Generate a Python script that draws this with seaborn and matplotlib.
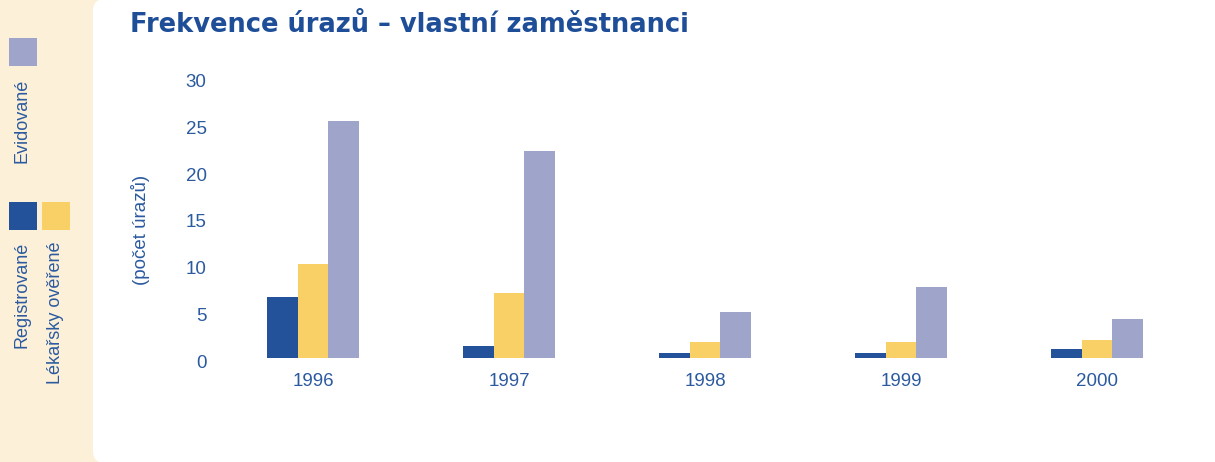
import numpy as np
import pandas as pd
import matplotlib
matplotlib.use("Agg")
import matplotlib.pyplot as plt
import matplotlib.transforms as mtransforms
from matplotlib.patches import FancyBboxPatch, Rectangle
import seaborn as sns

# ---- data ----
years = ["1996", "1997", "1998", "1999", "2000"]
series = ["Registrované", "Lékařsky ověřené", "Evidované"]
registrovane = [6.5, 1.25, 0.5, 0.5, 0.95]
lekarsky_overene = [10.0, 6.9, 1.7, 1.7, 1.9]
evidovane = [25.2, 22.0, 4.9, 7.5, 4.1]
y_ticks = [0, 5, 10, 15, 20, 25, 30]
title = "Frekvence úrazů – vlastní zaměstnanci"
ylabel = "(počet úrazů)"

colors = ["#23519a", "#f8d066", "#9fa4ca"]
text_color = "#2b5a9f"
title_color = "#1f4e98"
cream = "#fdf0d9"

W, H = 1215, 462

sns.set_theme(style="white")
plt.rcParams["font.family"] = ["Liberation Sans", "DejaVu Sans"]

df = pd.DataFrame({
    "year": years * 3,
    "series": np.repeat(series, len(years)),
    "value": registrovane + lekarsky_overene + evidovane,
})

fig = plt.figure(figsize=(W / 100, H / 100), dpi=100, facecolor=cream)

# white rounded panel
panel = FancyBboxPatch((93, -1), 1300, H + 2,
                       boxstyle="round,pad=0,rounding_size=12",
                       transform=None, facecolor="white", edgecolor="none",
                       zorder=-10)
fig.add_artist(panel)

y0_px, scale = 357.7, 9.38
ymax = 30.5
top_px = y0_px - ymax * scale
ax = fig.add_axes([215 / W, (H - y0_px) / H, 980 / W, (y0_px - top_px) / H])
ax.set_facecolor("none")

sns.barplot(data=df, x="year", y="value", hue="series", hue_order=series,
            palette=colors, width=0.47, saturation=1, legend=False,
            linewidth=0, ax=ax)

ax.set_xlim(-0.5, 4.5)
ax.set_ylim(0, ymax)
ax.set_yticks(y_ticks)
ax.set_yticklabels([str(t) for t in y_ticks])
for s in ax.spines.values():
    s.set_visible(False)
ax.tick_params(axis="both", length=0, labelsize=13.5, labelcolor=text_color)
ax.tick_params(axis="x", pad=11)
ax.tick_params(axis="y", pad=6)
ax.set_xlabel("")
ax.set_ylabel(ylabel, fontsize=13.5, color=text_color)
ax.yaxis.set_label_coords((150 - 215) / 980, (y0_px - 230) / (y0_px - top_px))

off = mtransforms.ScaledTranslation(0, -4 / 100, fig.dpi_scale_trans)
for lab in ax.get_yticklabels():
    lab.set_transform(lab.get_transform() + off)

fig.text(130 / W, 1 - 25 / H, title, ha="left", va="center", fontsize=18.5,
         fontweight="bold", color=title_color, family=["DejaVu Sans"])

# manual legend
def fx(x):
    return x / W

def fy(y):
    return 1 - y / H

legend_boxes = [(9, 202, colors[0]), (42, 202, colors[1]), (9, 38, colors[2])]
for x, y, c in legend_boxes:
    fig.add_artist(Rectangle((fx(x), fy(y + 28)), 28 / W, 28 / H,
                             transform=fig.transFigure, facecolor=c,
                             edgecolor="none"))

legend_labels = [(22.5, 242, series[0]), (55.5, 242, series[1]), (22.5, 79, series[2])]
for x, y, t in legend_labels:
    fig.text(fx(x), fy(y), t, rotation=90, ha="center", va="top",
             fontsize=13, color=text_color)

fig.savefig("out.png", dpi=100, facecolor=cream)
